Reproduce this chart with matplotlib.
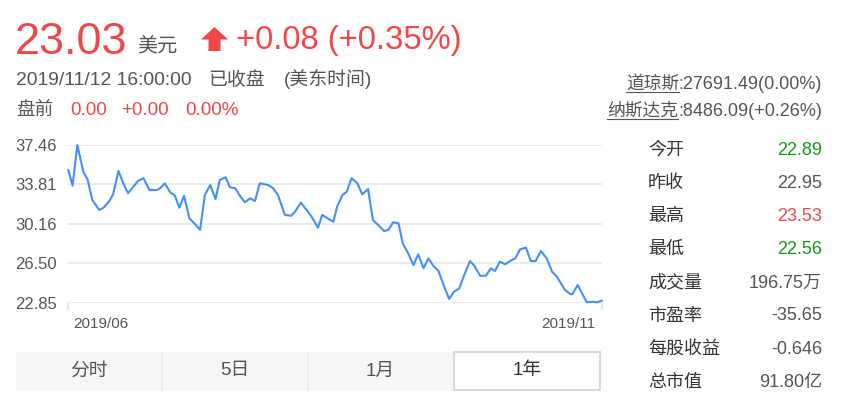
import matplotlib
matplotlib.use("Agg")
import matplotlib.pyplot as plt
from matplotlib.patches import Polygon, Rectangle
from matplotlib.lines import Line2D

plt.rcParams['font.family'] = ['Liberation Sans', 'Noto Sans CJK SC']

# 1年走势: 交易日序号 / 收盘价
days = [0.0, 0.8, 1.7, 2.8, 3.6, 4.5, 5.8, 6.6, 7.7, 8.4,
        9.4, 10.3, 11.2, 12.2, 13.1, 14.1, 15.2, 16.6, 17.2, 18.1,
        19.1, 20.0, 20.8, 21.7, 22.7, 23.8, 24.7, 25.6, 26.6, 27.6,
        28.4, 29.5, 30.3, 31.3, 32.2, 33.1, 34.1, 35.0, 35.9, 37.5,
        38.4, 39.3, 40.6, 41.8, 42.5, 43.6, 44.7, 45.6, 46.8, 47.6,
        48.6, 49.7, 50.4, 51.4, 52.2, 53.1, 54.2, 55.1, 56.2, 57.1,
        58.1, 59.2, 60.0, 60.9, 61.9, 62.7, 63.7, 64.7, 65.6, 66.6,
        67.5, 68.4, 69.4, 70.3, 71.4, 72.3, 73.3, 74.1, 75.3, 76.1,
        77.2, 78.3, 79.2, 80.0, 80.9, 81.9, 82.8, 83.8, 84.7, 85.8,
        86.7, 87.6, 88.6, 89.7, 90.7, 91.6, 93.1, 94.1, 94.5, 95.5,
        96.3, 97.2, 98.2, 99.1, 100.0]
price = [35.14, 33.69, 37.46, 34.99, 34.28, 32.37, 31.44, 31.65, 32.27, 32.89,
         35.05, 33.91, 32.99, 33.60, 34.15, 34.38, 33.29, 33.29, 33.45, 33.91,
         33.08, 32.76, 31.65, 32.76, 30.67, 30.11, 29.59, 32.83, 33.75, 32.46,
         34.22, 34.47, 33.54, 33.45, 32.74, 32.15, 32.52, 32.27, 33.91, 33.75,
         33.45, 32.83, 30.98, 30.91, 31.28, 32.12, 31.44, 30.82, 29.80, 30.98,
         30.67, 30.35, 31.74, 32.83, 33.13, 34.38, 33.91, 32.89, 33.38, 30.51,
         30.05, 29.49, 29.59, 30.30, 30.21, 28.35, 27.43, 26.34, 27.33, 26.04,
         26.96, 26.28, 25.79, 24.56, 23.19, 23.87, 24.18, 25.26, 26.71, 26.28,
         25.35, 25.35, 26.04, 25.79, 26.65, 26.41, 26.71, 26.96, 27.80, 27.95,
         26.71, 26.71, 27.64, 26.96, 25.72, 25.26, 24.03, 23.66, 23.63, 24.49,
         23.72, 22.89, 22.94, 22.89, 23.03]

y_ticks = [22.85, 26.50, 30.16, 33.81, 37.46]
x_labels = ['2019/06', '2019/11']

last_price = '23.03'
change_txt = '+0.08 (+0.35%)'
pre_market = ['0.00', '+0.00', '0.00%']
index_names = ['道琼斯', '纳斯达克']
index_vals = [':27691.49(0.00%)', ':8486.09(+0.26%)']

stat_names = ['今开', '昨收', '最高', '最低', '成交量', '市盈率', '每股收益', '总市值']
stat_values = ['22.89', '22.95', '23.53', '22.56', '196.75万', '-35.65', '-0.646', '91.80亿']
stat_kind = ['down', 'flat', 'up', 'down', 'flat', 'flat', 'flat', 'flat']
tabs = ['分时', '5日', '1月', '1年']

RED = '#f04848'
GREEN = '#169a16'
GRAY = '#555555'
DARK = '#333333'
BLUE = '#4590f5'
kind_color = {'up': RED, 'down': GREEN, 'flat': GRAY}

W, H = 860, 408
fig = plt.figure(figsize=(W / 100, H / 100), dpi=100)


def fx(x):
    return x / W


def fy(y):
    return 1 - y / H


def txt(x, y, s, **kw):
    kw.setdefault('va', 'baseline')
    fig.text(fx(x), fy(y), s, **kw)


# header
txt(15, 54, last_price, fontsize=32.5, color=RED)
txt(137, 51, '美元', fontsize=14.5, color=GRAY)
arrow = [(214.5, 27), (228, 39.5), (220.5, 39.5), (220.5, 51), (208.5, 51), (208.5, 39.5), (201, 39.5)]
fig.patches.append(Polygon([(fx(a), fy(b)) for a, b in arrow], closed=True,
                           facecolor=RED, edgecolor='none', transform=fig.transFigure))
txt(236, 49.5, change_txt, fontsize=23.6, color=RED)

txt(16, 85, '2019/11/12 16:00:00', fontsize=13.9, color=GRAY)
txt(208, 85, '已收盘', fontsize=13.6, color=GRAY)
txt(284, 85, '(美东时间)', fontsize=13.6, color=GRAY)

txt(16, 115, '盘前', fontsize=13.4, color=GRAY)
for xp, s in zip([70, 121, 185], pre_market):
    txt(xp, 115, s, fontsize=13.6, color=RED)

# 指数
for (xs, xe, yb), name, val in zip([(626, 679, 89), (607, 678, 116)], index_names, index_vals):
    txt(xs, yb, name, fontsize=12.8, color=GRAY)
    txt(822, yb, val, fontsize=13, color=GRAY, ha='right')
    fig.lines.append(Line2D([fx(xs), fx(xe)], [fy(yb + 2.5), fy(yb + 2.5)], color=GRAY,
                            lw=0.8, transform=fig.transFigure))

# 行情表
for i, (n, v, k) in enumerate(zip(stat_names, stat_values, stat_kind)):
    yb = 155 + i * 33.1
    txt(648, yb, n, fontsize=13, color=DARK)
    txt(822, yb, v, fontsize=13, color=kind_color[k], ha='right')

# chart
ax = fig.add_axes([fx(68.3), fy(302.7), (601.7 - 68.3) / W, (302.7 - 145) / H])
ax.plot(days, price, color=BLUE, lw=1.5, clip_on=False, zorder=3)
ax.set_xlim(0, 100)
ax.set_ylim(y_ticks[0], y_ticks[-1])
ax.set_yticks(y_ticks)
ax.set_yticklabels(['%.2f' % t for t in y_ticks])
ax.set_xticks([0, 100])
ax.set_xticklabels([])
ax.tick_params(axis='y', length=0, pad=8, labelsize=12, labelcolor=GRAY)
ax.tick_params(axis='x', length=5, width=1.5, color='#e6e6e6')
ax.grid(axis='y', color='#ebebeb', lw=1.4)
for sp in ax.spines.values():
    sp.set_visible(False)
ax.annotate(x_labels[0], xy=(0, 0), xycoords=('data', 'axes fraction'), xytext=(3.6, -15.6),
            textcoords='offset points', ha='left', va='center', fontsize=11, color=GRAY)
ax.annotate(x_labels[1], xy=(100, 0), xycoords=('data', 'axes fraction'), xytext=(-4.8, -15.6),
            textcoords='offset points', ha='right', va='center', fontsize=11, color=GRAY)

# tabs
edges = [16, 162, 307.5, 453.3, 601]
fig.patches.append(Rectangle((fx(16), fy(390.7)), (453.3 - 16) / W, (390.7 - 351.7) / H,
                             facecolor='#f7f7f7', edgecolor='none', transform=fig.transFigure))
for xd in edges[1:3]:
    fig.lines.append(Line2D([fx(xd), fx(xd)], [fy(351.7), fy(390.7)], color='#ececec',
                            lw=1.3, transform=fig.transFigure))
fig.patches.append(Rectangle((fx(454), fy(390)), (600.3 - 454) / W, (390 - 352.4) / H,
                             facecolor='white', edgecolor='#d9d9d9', lw=1.5,
                             transform=fig.transFigure))
for i, t in enumerate(tabs):
    xc = (edges[i] + edges[i + 1]) / 2
    txt(xc, 371, t, fontsize=13.5, color=DARK if i == 3 else GRAY, ha='center', va='center')

fig.savefig('out.png', dpi=100)
